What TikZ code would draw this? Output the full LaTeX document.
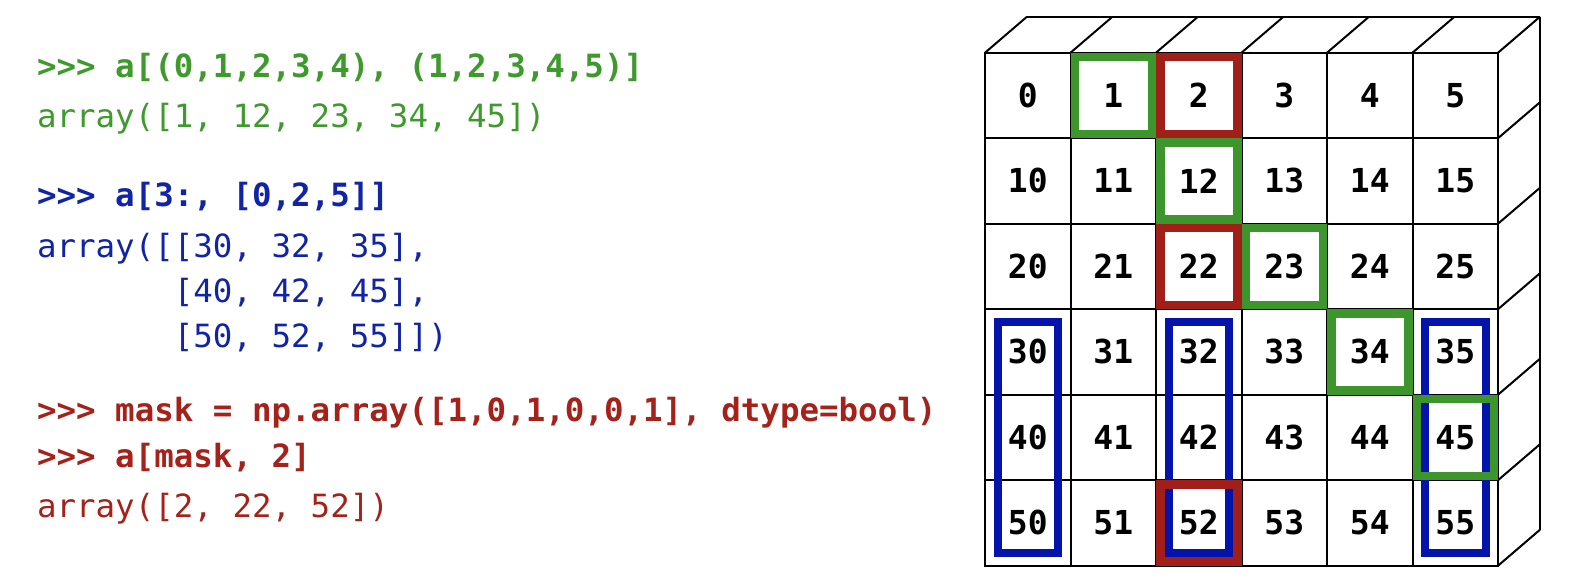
\documentclass[tikz,border=0pt]{standalone}
\usepackage{fontspec}
\newfontfamily\codefont[FakeStretch=1.015]{DejaVu Sans Mono}
\newfontfamily\cellfont{DejaVu Sans Mono}
\definecolor{cgreen}{HTML}{3F9A2E}
\definecolor{cblue}{HTML}{1224A6}
\definecolor{cred}{HTML}{A5221A}
\definecolor{bgreen}{HTML}{3D962B}
\definecolor{bblue}{HTML}{0414AA}
\definecolor{bred}{HTML}{A11F18}
\tikzset{
  codeline/.style={anchor=base west, inner sep=0pt, outer sep=0pt, font=\codefont\fontsize{32}{34}\selectfont},
  codebold/.style={codeline, font=\codefont\bfseries\fontsize{32}{34}\selectfont},
  cell/.style={draw=black, line width=2pt, minimum size=85.5pt, inner sep=0pt, outer sep=0pt,
    font=\cellfont\bfseries\fontsize{33}{33}\selectfont},
  gridline/.style={draw=black, line width=2pt, line join=round},
  gbox/.style={draw=bgreen, line width=8.5pt},
  rbox/.style={draw=bred, line width=8.5pt},
  bbox/.style={draw=bblue, line width=8pt},
}
\begin{document}
\begin{tikzpicture}[x=1pt,y=-1pt]
\useasboundingbox[fill=white] (0,0) rectangle (1582,584);
% code
\node[codebold, text=cgreen] (l1) at (37,77) {>>> a[(0,1,2,3,4), (1,2,3,4,5)]};
\node[codeline, text=cgreen] (l2) at (37,127) {array([1, 12, 23, 34, 45])};
\node[codebold, text=cblue] (l3) at (37,206) {>>> a[3:, [0,2,5]]};
\node[codeline, text=cblue] (l4) at (37,257) {array([[30, 32, 35],};
\node[codeline, text=cblue] (l5) at (37,302) {\phantom{array([}[40, 42, 45],};
\node[codeline, text=cblue] (l6) at (37,347) {\phantom{array([}[50, 52, 55]])};
\node[codebold, text=cred] (l7) at (37,421) {>>> mask = np.array([1,0,1,0,0,1], dtype=bool)};
\node[codebold, text=cred] (l8) at (37,467) {>>> a[mask, 2]};
\node[codeline, text=cred] (l9) at (37,517) {array([2, 22, 52])};
% grid cells
\foreach \r in {0,...,5}{
  \foreach \c in {0,...,5}{
    \pgfmathtruncatemacro\n{10*\r+\c}
    \node[cell] (c\r\c) at ({985+85.5*\c+42.75},{52.7+85.5*\r+42.75}) {\n};
  }
}
% top face
\foreach \c in {0,...,5}{
  \draw[gridline] (c0\c.north west) -- ++(42,-36);
}
\draw[gridline] (c05.north east) -- ++(42,-36) coordinate (bk);
\draw[gridline] ([shift={(42,-36)}]c00.north west) -- (bk);
% right face
\foreach \r in {0,...,5}{
  \draw[gridline] (c\r5.south east) -- ++(42,-36);
}
\draw[gridline] (bk) -- ([shift={(42,-36)}]c55.south east);
% blue boxes
\foreach \c in {0,2,5}{
  \draw[bbox] ([shift={(12.5,12.5)}]c3\c.north west) rectangle ([shift={(-12.5,-12.5)}]c5\c.south east);
}
% green boxes
\foreach \k in {01,12,23,34,45}{
  \draw[gbox] ([shift={(4.25,4.25)}]c\k.north west) rectangle ([shift={(-4.25,-4.25)}]c\k.south east);
}
% red boxes
\foreach \k in {02,22,52}{
  \draw[rbox] ([shift={(4.25,4.25)}]c\k.north west) rectangle ([shift={(-4.25,-4.25)}]c\k.south east);
}
\end{tikzpicture}
\end{document}
